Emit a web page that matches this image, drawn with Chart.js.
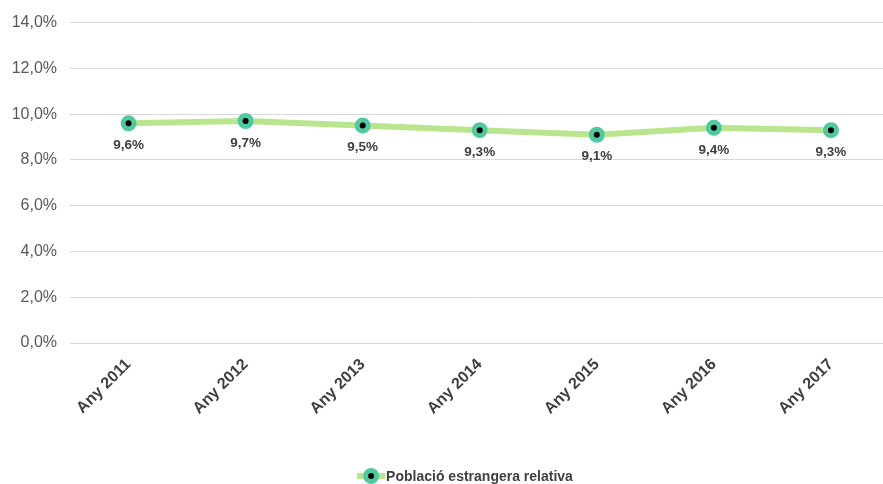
<!DOCTYPE html>
<html>
<head>
<meta charset="utf-8">
<title>Població estrangera relativa</title>
<script src="https://cdn.jsdelivr.net/npm/chart.js@4/dist/chart.umd.min.js"></script>
<style>
    html, body { margin: 0; padding: 0; background: #fff; overflow: hidden; }
    #wrap { width: 883px; height: 484px; overflow: hidden; }
</style>
</head>
<body>
<div id="wrap"><canvas id="poblacioChart" width="900" height="484"></canvas></div>
<script>
const years = ['Any 2011', 'Any 2012', 'Any 2013', 'Any 2014', 'Any 2015', 'Any 2016', 'Any 2017'];
const relativeForeign = [9.6, 9.7, 9.5, 9.3, 9.1, 9.4, 9.3];
const seriesName = 'Població estrangera relativa';
const yTicks = [0, 2, 4, 6, 8, 10, 12, 14];

const LINE_GREEN = '#b9e68c';
const MARKER_TEAL = '#50c9a0';
const FONT = '"Liberation Sans", Arial, sans-serif';

const pct = v => v.toFixed(1).replace('.', ',') + '%';

// values written under each point
const pointLabels = {
    id: 'pointLabels',
    afterDatasetsDraw(chart) {
        const ctx = chart.ctx;
        const meta = chart.getDatasetMeta(0);
        ctx.save();
        ctx.font = 'bold 13.5px ' + FONT;
        ctx.fillStyle = '#404040';
        ctx.textAlign = 'center';
        ctx.textBaseline = 'middle';
        meta.data.forEach((pt, i) => {
            ctx.fillText(pct(relativeForeign[i]), pt.x, pt.y + 22);
        });
        ctx.restore();
    }
};

// line-with-marker legend at the bottom
const lineLegend = {
    id: 'lineLegend',
    afterDraw(chart) {
        const ctx = chart.ctx;
        const y = 476;
        ctx.save();
        ctx.font = 'bold 14px ' + FONT;
        const textW = ctx.measureText(seriesName).width;
        const total = 29 + textW;
        const x0 = chart.width / 2 + 15 - total / 2;

        ctx.strokeStyle = LINE_GREEN;
        ctx.lineWidth = 6;
        ctx.beginPath();
        ctx.moveTo(x0, y);
        ctx.lineTo(x0 + 28, y);
        ctx.stroke();

        ctx.beginPath();
        ctx.arc(x0 + 14, y, 5.5, 0, Math.PI * 2);
        ctx.fillStyle = '#000';
        ctx.fill();
        ctx.lineWidth = 5;
        ctx.strokeStyle = MARKER_TEAL;
        ctx.stroke();

        ctx.fillStyle = '#404040';
        ctx.textBaseline = 'middle';
        ctx.textAlign = 'left';
        ctx.fillText(seriesName, x0 + 29, y + 1);
        ctx.restore();
    }
};

new Chart(document.getElementById('poblacioChart'), {
    type: 'line',
    data: {
        labels: years,
        datasets: [{
            label: seriesName,
            data: relativeForeign,
            borderColor: LINE_GREEN,
            borderWidth: 6,
            tension: 0,
            pointRadius: 5.5,
            pointHoverRadius: 5.5,
            pointBorderWidth: 5,
            pointBorderColor: MARKER_TEAL,
            pointBackgroundColor: '#000'
        }]
    },
    options: {
        responsive: false,
        animation: false,
        layout: { padding: { top: 21, right: 5, bottom: 0, left: 0 } },
        plugins: {
            legend: { display: false },
            tooltip: { enabled: false }
        },
        scales: {
            x: {
                offset: true,
                grid: { display: false, drawTicks: false },
                border: { display: false },
                ticks: {
                    minRotation: 45,
                    maxRotation: 45,
                    padding: 12,
                    color: '#404040',
                    font: { family: FONT, size: 16, weight: 'bold' }
                },
                afterFit(scale) { scale.height = 141; }
            },
            y: {
                min: 0,
                max: 14,
                afterBuildTicks(scale) {
                    scale.ticks = yTicks.map(v => ({ value: v }));
                },
                grid: { color: '#d9d9d9', lineWidth: 1, drawTicks: false },
                border: { display: false },
                ticks: {
                    padding: 13,
                    color: '#595959',
                    font: { family: FONT, size: 16 },
                    callback: v => pct(v)
                },
                afterFit(scale) { scale.width = 70; }
            }
        }
    },
    plugins: [pointLabels, lineLegend]
});
</script>
</body>
</html>
